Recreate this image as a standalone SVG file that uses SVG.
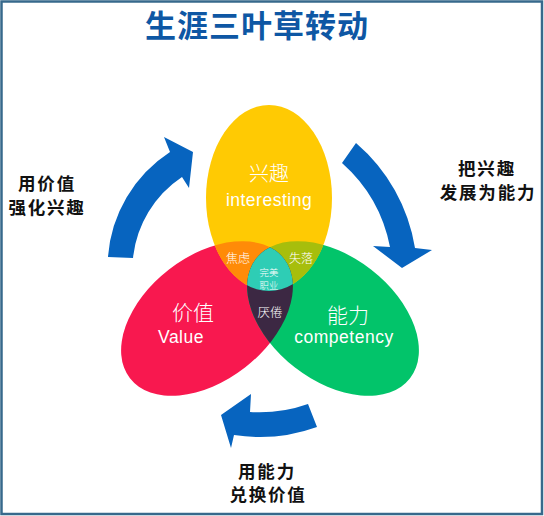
<svg xmlns="http://www.w3.org/2000/svg" width="544" height="516" viewBox="0 0 544 516">
<style>
.cn{font-family:"Noto Sans CJK SC","Noto Sans",sans-serif;text-anchor:middle}
.ttl{font-size:31px;font-weight:bold;fill:#0E57A4;letter-spacing:1px}
.side{font-size:17.5px;font-weight:bold;fill:#111;letter-spacing:1.8px}
.in{fill:#fff;font-weight:300}
.en{font-family:"Liberation Sans",Arial,sans-serif;fill:#fff;font-size:17.5px;letter-spacing:0.5px;text-anchor:middle}
.arrow{fill:#0764BF}
</style>
<defs>
<ellipse id="eY" cx="269" cy="198" rx="63" ry="93"/>
<ellipse id="eR" cx="207" cy="318.5" rx="97.5" ry="62" transform="rotate(-37.8 207 318.5)"/>
<ellipse id="eG" cx="333" cy="318.5" rx="97.5" ry="62" transform="rotate(37.8 333 318.5)"/>
<clipPath id="cY"><use href="#eY"/></clipPath>
<clipPath id="cR"><use href="#eR"/></clipPath>
</defs>
<rect x="1.5" y="1.5" width="540.5" height="512.5" fill="#fff" stroke="#37698C" stroke-width="2.5"/>
<text class="cn ttl" x="257" y="37">生涯三叶草转动</text>

<g id="node-value"><use href="#eR" fill="#F8184F"/></g>
<g id="node-competency"><use href="#eG" fill="#02C46A"/></g>
<g id="node-interest"><use href="#eY" fill="#FFCA03"/></g>
<g id="overlaps">
<use href="#eR" fill="#FF8B08" clip-path="url(#cY)"/>
<use href="#eG" fill="#A7BE0C" clip-path="url(#cY)"/>
<use href="#eG" fill="#3C2843" clip-path="url(#cR)"/>
<g clip-path="url(#cY)"><use href="#eG" fill="#2ECDB5" clip-path="url(#cR)"/></g>
</g>

<g id="labels-inner">
<text class="cn in" x="269" y="181" font-size="20">兴趣</text>
<text class="en" x="269" y="206">interesting</text>
<text class="cn in" x="193" y="320" font-size="21">价值</text>
<text class="en" x="181" y="343">Value</text>
<text class="cn in" x="348" y="323" font-size="21">能力</text>
<text class="en" x="344" y="343">competency</text>
<text class="cn in" x="238" y="263" font-size="12">焦虑</text>
<text class="cn in" x="301" y="263" font-size="12">失落</text>
<text class="cn in" x="269" y="275.5" font-size="9.4">完美</text>
<text class="cn in" x="269" y="289" font-size="9.4">职业</text>
<text class="cn in" x="270" y="317" font-size="12.5">厌倦</text>
</g>

<g id="connectors">
<path class="arrow" d="M108,257 A137,137 0 0 1 170,152 L164,137 L193,152 L189,188 L182,177 A111,111 0 0 0 133,258 Z"/>
<path class="arrow" d="M356,143 A175,175 0 0 1 415,248 L432,250 L402,268 L373,246 L390,247 A151,151 0 0 0 342,163 Z"/>
<path class="arrow" d="M308,404 A145,145 0 0 1 250,412 L251,394 L221,415 L231,448 L234,435 A168,168 0 0 0 317,427 Z"/>
</g>

<g id="labels-side">
<text class="cn side" x="47" y="190">用价值</text>
<text class="cn side" x="47" y="214">强化兴趣</text>
<text class="cn side" x="487" y="175">把兴趣</text>
<text class="cn side" x="488" y="199">发展为能力</text>
<text class="cn side" x="267" y="478">用能力</text>
<text class="cn side" x="268" y="501">兑换价值</text>
</g>
</svg>
